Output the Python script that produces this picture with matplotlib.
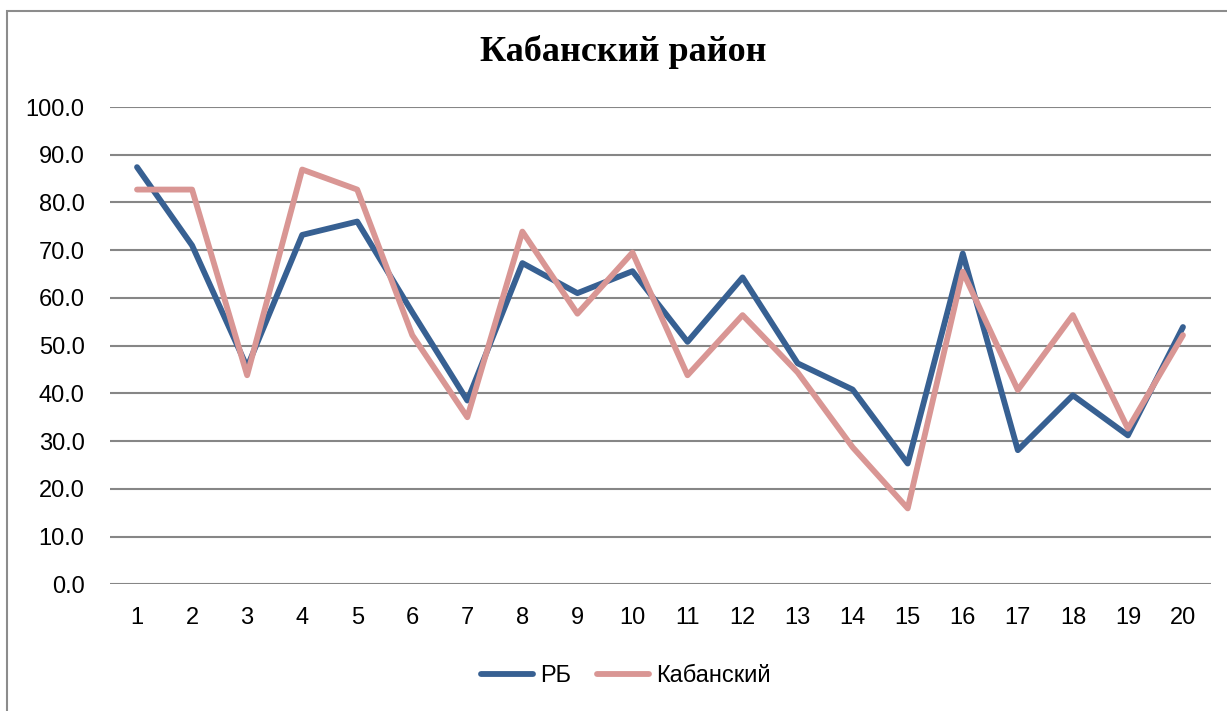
import matplotlib
matplotlib.use("Agg")
import matplotlib.pyplot as plt
from matplotlib.patches import Rectangle

# values
categories = list(range(1, 21))
rb = [87.4, 71.0, 45.5, 73.2, 76.0, 57.0, 38.5, 67.3, 61.0, 65.6,
      50.8, 64.3, 46.3, 40.8, 25.3, 69.3, 28.1, 39.6, 31.2, 53.9]
kabansky = [82.7, 82.7, 43.8, 86.9, 82.7, 52.2, 35.0, 73.9, 56.7, 69.5,
            43.8, 56.4, 44.4, 28.7, 15.9, 65.5, 40.7, 56.4, 32.6, 52.2]
yticks = [0, 10, 20, 30, 40, 50, 60, 70, 80, 90, 100]

W, H = 1227, 711
fig = plt.figure(figsize=(W / 100, H / 100), dpi=100)
fig.patch.set_facecolor("white")

# outer chart border (cut off at right and bottom in the reference)
fig.add_artist(Rectangle((7 / W, -0.05), 1.2, 1 - 11 / H + 0.05,
                         transform=fig.transFigure, fill=False,
                         edgecolor="#8c8c8c", linewidth=1.5))

ax = fig.add_axes([109.5 / W, 1 - 584.3 / H, (1210.5 - 109.5) / W, (584.3 - 107) / H])

tick_font = "Liberation Sans"
ax.plot(categories, rb, color="#376092", linewidth=4.2, label="РБ",
        solid_joinstyle="round", solid_capstyle="round", zorder=3)
ax.plot(categories, kabansky, color="#D99694", linewidth=4.2, label="Кабанский",
        solid_joinstyle="round", solid_capstyle="round", zorder=3)

ax.set_xlim(0.5, 20.5)
ax.set_ylim(0, 100)
ax.set_xticks(categories)
ax.set_yticks(yticks)
ax.set_yticklabels([f"{v:.1f}" for v in yticks])
ax.tick_params(axis="both", length=0, labelsize=17, colors="black")
ax.tick_params(axis="y", pad=18)
ax.tick_params(axis="x", pad=16)
for lbl in ax.get_xticklabels() + ax.get_yticklabels():
    lbl.set_fontfamily(tick_font)

ax.grid(axis="y", color="#868686", linewidth=1.5)
ax.set_axisbelow(True)
for s in ax.spines.values():
    s.set_visible(False)

fig.text(623 / W, 1 - 52 / H, "Кабанский район", ha="center", va="center",
         fontsize=26, fontweight="bold", family="Liberation Serif")

fig.legend(loc="center", bbox_to_anchor=(626 / W, 1 - 676 / H), ncol=2,
           frameon=False, prop={"family": tick_font, "size": 17},
           handlelength=2.2, handletextpad=0.3, columnspacing=1.1)

fig.savefig("out.png", dpi=100)
